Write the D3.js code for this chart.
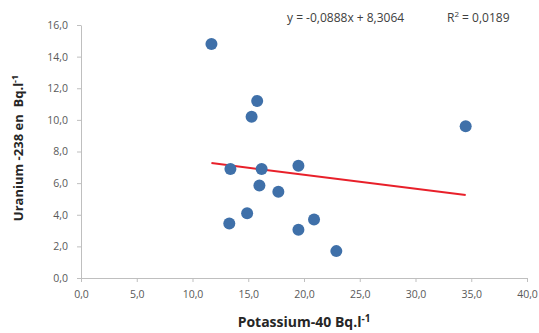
<!DOCTYPE html>
<html>
<head>
<meta charset="utf-8">
<script src="https://cdn.jsdelivr.net/npm/d3@7"></script>
<style>
  body { margin: 0; background: #fff; }
  text { font-family: "Open Sans", "Liberation Sans", sans-serif; }
</style>
</head>
<body>
<div id="chart"></div>
<script>
// Potassium-40 vs Uranium-238 scatter

const potassium = [11.7, 15.8, 15.3, 34.5, 13.4, 16.2, 19.5, 16.0, 17.7, 14.9, 13.3, 19.5, 20.9, 22.9];
const uranium   = [14.8, 11.2, 10.2, 9.6, 6.9, 6.9, 7.1, 5.85, 5.45, 4.1, 3.45, 3.05, 3.7, 1.7];

const xTicks = [0, 5, 10, 15, 20, 25, 30, 35, 40];
const yTicks = [0, 2, 4, 6, 8, 10, 12, 14, 16];

const slope = -0.0888;
const intercept = 8.3064;
const rSquared = "0,0189";

const fmt = (v) => v.toFixed(1).replace(".", ",");

const drawChart = () => {
  const width = 539;
  const height = 333;
  const margin = { left: 81, right: 12, top: 25, bottom: 55 };

  const points = potassium.map((k, i) => ({ k: k, u: uranium[i] }));

  const xScale = d3.scaleLinear()
                   .domain([0, 40])
                   .range([margin.left, width - margin.right]);

  const yScale = d3.scaleLinear()
                   .domain([0, 16])
                   .range([height - margin.bottom, margin.top]);

  const svg = d3.select("#chart")
                .append("svg")
                .attr("width", width)
                .attr("height", height);

  const xAxis = svg.append("g")
                   .attr("transform", `translate(0,${height - margin.bottom})`)
                   .call(d3.axisBottom(xScale).tickValues(xTicks).tickFormat(fmt).tickSize(4).tickSizeOuter(0).tickPadding(9));

  const yAxis = svg.append("g")
                   .attr("transform", `translate(${margin.left},0)`)
                   .call(d3.axisLeft(yScale).tickValues(yTicks).tickFormat(fmt).tickSize(4).tickSizeOuter(0).tickPadding(9));

  [xAxis, yAxis].forEach((ax) => {
    ax.select(".domain").attr("stroke", "#bfbfbf");
    ax.selectAll(".tick line").attr("stroke", "#bfbfbf");
    ax.selectAll(".tick text")
      .attr("fill", "#595959")
      .style("font-size", "10.5px");
  });

  // trend line over the data range
  const kExtent = d3.extent(potassium);
  svg.append("line")
     .attr("x1", xScale(kExtent[0]))
     .attr("y1", yScale(slope * kExtent[0] + intercept))
     .attr("x2", xScale(kExtent[1]))
     .attr("y2", yScale(slope * kExtent[1] + intercept))
     .attr("stroke", "#e8202a")
     .attr("stroke-width", 2);

  svg.selectAll("circle")
     .data(points)
     .enter()
     .append("circle")
     .attr("cx", (d) => xScale(d.k))
     .attr("cy", (d) => yScale(d.u))
     .attr("r", 6)
     .attr("fill", "#3f70a9");

  // equation labels
  svg.append("text")
     .attr("x", 287)
     .attr("y", 22)
     .attr("fill", "#404040")
     .style("font-size", "12px")
     .text(`y = ${fmt4(slope)}x + ${fmt4(intercept)}`);

  svg.append("text")
     .attr("x", 447)
     .attr("y", 22)
     .attr("fill", "#404040")
     .style("font-size", "12px")
     .html(`R<tspan dy="-5" font-size="8">2</tspan><tspan dy="5"> = ${rSquared}</tspan>`);

  // axis titles
  svg.append("text")
     .attr("x", 304)
     .attr("y", 327)
     .attr("text-anchor", "middle")
     .attr("fill", "#262626")
     .style("font-size", "14px")
     .style("font-weight", "bold")
     .html('Potassium-40 Bq.l<tspan dy="-5" font-size="10">-1</tspan>');

  svg.append("text")
     .attr("transform", "translate(23,148) rotate(-90)")
     .attr("text-anchor", "middle")
     .attr("fill", "#262626")
     .style("font-size", "13px")
     .style("font-weight", "bold")
     .style("white-space", "pre")
     .html('Uranium -238 en  Bq.l<tspan dy="-5" font-size="9">-1</tspan>');
};

function fmt4(v) {
  return v.toFixed(4).replace(".", ",");
}

drawChart();
</script>
</body>
</html>
